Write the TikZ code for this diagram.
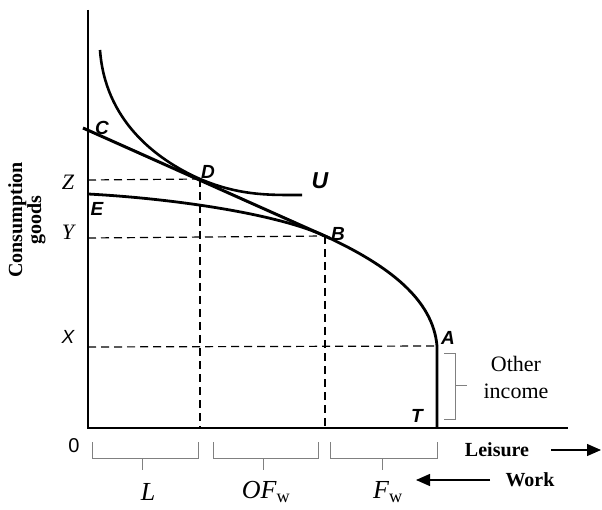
\documentclass[tikz,border=0pt]{standalone}
\usepackage{fontspec}
\setmainfont{Liberation Serif}
\newfontfamily\arialf{Liberation Sans}
\usetikzlibrary{arrows.meta}
\begin{document}
\begin{tikzpicture}[x=1pt,y=-1pt,
  axis/.style={line width=1.5pt},
  curve/.style={line width=2.8pt},
  guide/.style={line width=1.2pt,dash pattern=on 8pt off 5pt},
  brace/.style={gray,line width=0.9pt},
  ptlab/.style={font=\arialf\bfseries\itshape\fontsize{19}{19}\selectfont,inner sep=0pt},
  axlab/.style={font=\itshape\fontsize{22}{22}\selectfont,inner sep=0pt},
  seglab/.style={font=\itshape\fontsize{26}{26}\selectfont,inner sep=0pt},
  boldlab/.style={font=\bfseries\fontsize{20}{20}\selectfont,inner sep=0pt},
  bigarrow/.style={line width=1.3pt,-{Triangle[length=14pt,width=12pt]}}]
\useasboundingbox (0,0) rectangle (602,510);
% key points
\coordinate (O) at (88,428);
\coordinate (ytop) at (88,10);
\coordinate (xend) at (568,428);
\coordinate (E) at (88,194);
\coordinate (B) at (325,236);
\coordinate (A) at (437,346);
\coordinate (T) at (437,428);
\coordinate (C) at (83,128);
\coordinate (Cend) at (330,238.3);
\coordinate (D) at (200,179);
\coordinate (Ustart) at (100,50);
\coordinate (Uend) at (302,195);
% axes
\draw[axis] (ytop) -- (O) -- (xend);
% dashed guides
\draw[guide] (88,180) -- (D);
\draw[guide] (88,238) -- (B);
\draw[guide] (88,347) -- (A);
\draw[guide] (D) -- (200,428);
\draw[guide] (B) -- (325,428);
% production frontier
\draw[curve] (E) .. controls (180,199) and (280,215) .. (B)
  .. controls (390,266) and (433,300) .. (A) -- (T);
% budget line
\draw[line width=3pt] (C) -- (Cend);
% indifference curve
\draw[line width=2.6pt] (Ustart) .. controls (105,120) and (155,159) .. (D)
  .. controls (240,196) and (270,195) .. (Uend);
% point labels
\node[ptlab] (lC) at (102,128) {C};
\node[ptlab] (lD) at (208,172) {D};
\node[ptlab,font=\arialf\bfseries\itshape\fontsize{23}{23}\selectfont] (lU) at (320,181) {U};
\node[ptlab] (lE) at (97,209) {E};
\node[ptlab] (lB) at (338,234) {B};
\node[ptlab] (lA) at (448,338) {A};
\node[ptlab] (lT) at (417,416) {T};
\node[axlab] (lZ) at (68,182) {Z};
\node[axlab] (lY) at (68,232) {Y};
\node[axlab,font=\arialf\itshape\fontsize{19}{19}\selectfont] (lX) at (68,337) {X};
\node[font=\arialf\fontsize{20}{20}\selectfont,inner sep=0pt] (l0) at (74,446) {0};
% other income bracket
\draw[brace] (444,353) -- (455,353) -- (455,419) -- (444,419);
\draw[brace] (455,385) -- (467,385);
\node[align=center,font=\fontsize{22}{27}\selectfont,inner sep=0pt] (oi) at (516,377) {Other\\income};
% bottom brackets
\draw[brace] (92,442) -- (92,458) -- (198,458) -- (198,442);
\draw[brace] (142,458) -- (142,470);
\draw[brace] (213,442) -- (213,458) -- (318,458) -- (318,442);
\draw[brace] (263,458) -- (263,470);
\draw[brace] (330,442) -- (330,458) -- (437,458) -- (437,442);
\draw[brace] (382,458) -- (382,470);
\node[seglab] (lL) at (148,492) {L};
\node[seglab] (lOF) at (266,492) {OF\textsubscript{\upshape w}};
\node[seglab] (lF) at (388,492) {F\textsubscript{\upshape w}};
% leisure / work
\node[boldlab] (leis) at (497,450) {Leisure};
\coordinate (la1) at (551,450);
\coordinate (la2) at (601,450);
\draw[bigarrow] (la1) -- (la2);
\node[boldlab] (work) at (530,480) {Work};
\coordinate (wa1) at (490,480);
\coordinate (wa2) at (416,480);
\draw[bigarrow] (wa1) -- (wa2);
% vertical axis label
\node[rotate=90,align=center,font=\bfseries\fontsize{20}{19}\selectfont,inner sep=0pt] (cg) at (27,220) {Consumption\\goods};
\end{tikzpicture}
\end{document}
